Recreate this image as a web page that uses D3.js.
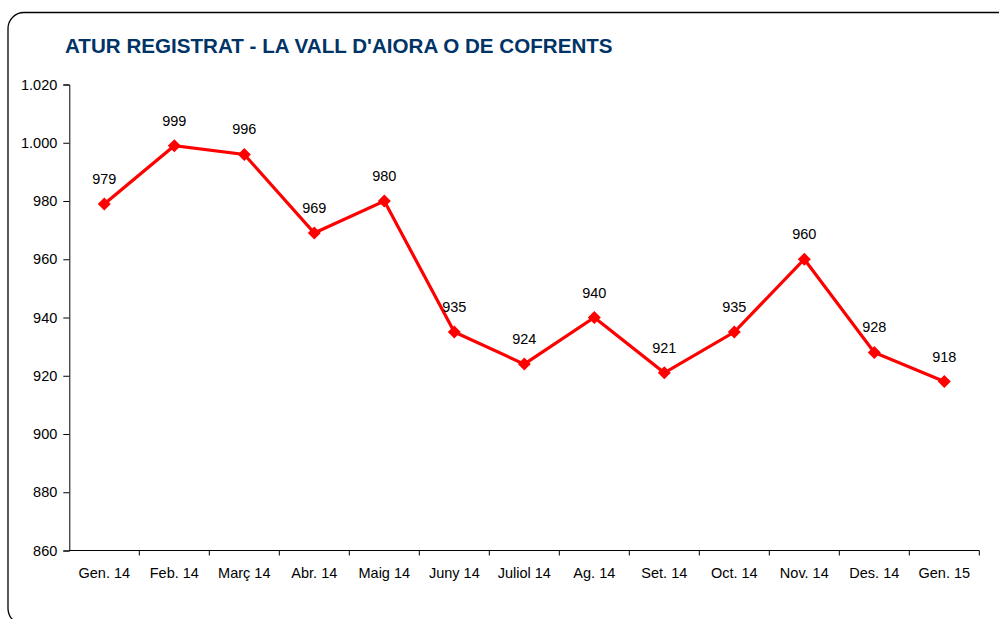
<!DOCTYPE html>
<html><head><meta charset="utf-8">
<script src="https://cdn.jsdelivr.net/npm/d3@7"></script>
<style>body{margin:0;background:#fff}svg{display:block}</style>
</head><body>
<script>
const categories = ["Gen. 14","Feb. 14","Març 14","Abr. 14","Maig 14","Juny 14","Juliol 14","Ag. 14","Set. 14","Oct. 14","Nov. 14","Des. 14","Gen. 15"];
const values = [979, 999, 996, 969, 980, 935, 924, 940, 921, 935, 960, 928, 918];
const yTicks = [860, 880, 900, 920, 940, 960, 980, 1000, 1020];
const title = "ATUR REGISTRAT - LA VALL D'AIORA O DE COFRENTS";

const W = 999, H = 619;
const svg = d3.select("body").append("svg").attr("width", W).attr("height", H);
const font = "'Liberation Sans', Arial, sans-serif";

svg.append("rect").attr("x", 8).attr("y", 12.5).attr("width", 1020).attr("height", 612)
  .attr("rx", 16).attr("ry", 16).attr("fill", "none").attr("stroke", "#000").attr("stroke-width", 1.3);

svg.append("text").attr("x", 65).attr("y", 53).text(title)
  .attr("font-family", font).attr("font-weight", "bold").attr("font-size", 20.6).attr("fill", "#003366");

const x = d3.scaleBand().domain(categories).range([69.3, 979.3]);
const y = d3.scaleLinear().domain([860, 1020]).range([550.5, 84.5]);

const fmt = v => d3.format(",")(v).replace(/,/g, ".");
const fs = 14.5;

const yAxis = svg.append("g").attr("transform", "translate(69.3,0)")
  .call(d3.axisLeft(y).tickValues(yTicks).tickSize(6).tickPadding(6).tickFormat(fmt));
yAxis.selectAll("text").attr("font-family", font).attr("font-size", fs).attr("fill", "#000");
yAxis.selectAll("line,path").attr("stroke", "#000").attr("stroke-width", 1);

const xAxis = svg.append("g").attr("transform", "translate(0,550.5)")
  .call(d3.axisBottom(x).tickSize(0).tickPadding(17));
xAxis.select("path").attr("stroke", "#000").attr("stroke-width", 1).attr("d", "M69.3,0H979.3");
xAxis.selectAll("text").attr("font-family", font).attr("font-size", fs).attr("fill", "#000");
// tick marks between categories
const bounds = categories.map(c => x(c)).concat([x.range()[1]]);
svg.append("g").selectAll("line").data(bounds.slice(1)).join("line")
  .attr("x1", d => d).attr("x2", d => d).attr("y1", 550.5).attr("y2", 555.5)
  .attr("stroke", "#000").attr("stroke-width", 1);

const cx = c => x(c) + x.bandwidth() / 2;
const data = categories.map((c, i) => ({c, v: values[i]}));

svg.append("path").datum(data)
  .attr("d", d3.line().x(d => cx(d.c)).y(d => y(d.v)))
  .attr("fill", "none").attr("stroke", "#FF0000").attr("stroke-width", 3.2);

svg.append("g").selectAll("path").data(data).join("path")
  .attr("transform", d => `translate(${cx(d.c)},${y(d.v)})`)
  .attr("d", "M0,-6.5L6.5,0L0,6.5L-6.5,0Z").attr("fill", "#FF0000");

svg.append("g").selectAll("text").data(data).join("text")
  .attr("x", d => cx(d.c)).attr("y", d => y(d.v) - 20)
  .attr("text-anchor", "middle").attr("font-family", font).attr("font-size", fs).attr("fill", "#000")
  .text(d => fmt(d.v));
</script>
</body></html>
